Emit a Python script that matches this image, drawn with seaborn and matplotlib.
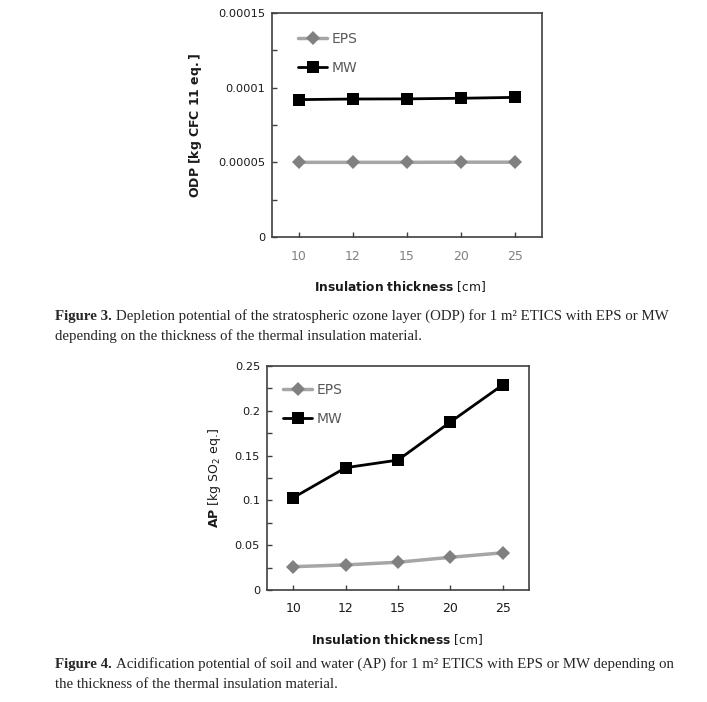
import numpy as np
import pandas as pd
import seaborn as sns
import matplotlib.pyplot as plt
from matplotlib.ticker import FixedLocator

# Data
thickness = ['10', '12', '15', '20', '25']
odp_eps = [5.00e-5, 5.00e-5, 5.00e-5, 5.01e-5, 5.01e-5]
odp_mw = [9.20e-5, 9.24e-5, 9.25e-5, 9.29e-5, 9.35e-5]
ap_eps = [0.026, 0.028, 0.031, 0.0365, 0.0415]
ap_mw = [0.103, 0.1365, 0.145, 0.1875, 0.229]

odp_ticks = [0, 0.00005, 0.0001, 0.00015]
odp_ticklabels = ['0', '0.00005', '0.0001', '0.00015']
ap_ticks = [0, 0.05, 0.1, 0.15, 0.2, 0.25]
ap_ticklabels = ['0', '0.05', '0.1', '0.15', '0.2', '0.25']

caption3 = ('Depletion potential of the stratospheric ozone layer (ODP) for 1 m\u00b2 ETICS with EPS or MW',
            'depending on the thickness of the thermal insulation material.')
caption4 = ('Acidification potential of soil and water (AP) for 1 m\u00b2 ETICS with EPS or MW depending on',
            'the thickness of the thermal insulation material.')

sns.set_theme(style='white')
plt.rcParams['font.family'] = ['DejaVu Sans']
plt.rcParams['mathtext.fontset'] = 'dejavusans'

EDGE = '#404040'
palette = {'EPS': '#a6a6a6', 'MW': '#000000'}
markers = {'EPS': 'D', 'MW': 's'}


def long_form(eps, mw):
    return pd.DataFrame({
        'thickness': thickness * 2,
        'value': list(eps) + list(mw),
        'material': ['EPS'] * len(eps) + ['MW'] * len(mw),
    })


def style_line(line):
    # Excel look: light grey line with darker grey diamonds, black line with black squares
    if line.get_color() == palette['EPS']:
        line.set_linewidth(2.5)
        line.set_markerfacecolor('#808080')
        line.set_markeredgecolor('#808080')
        line.set_markersize(7.5)
    else:
        line.set_linewidth(2)
        line.set_markersize(8)


def draw_panel(ax, df, ticks, ticklabels, minor_step, ylabel, xtick_color,
               ylabel_x, xlabel_x, leg_xy):
    sns.lineplot(data=df, x='thickness', y='value', hue='material', style='material',
                 palette=palette, markers=markers, dashes=False, sort=False,
                 markersize=7, markeredgewidth=0, ax=ax)
    for line in ax.get_lines():
        style_line(line)

    ax.set_xlim(-0.5, 4.5)
    ax.set_ylim(ticks[0], ticks[-1])
    ax.yaxis.set_major_locator(FixedLocator(ticks))
    ax.set_yticklabels(ticklabels, fontsize=8.2, color='#1a1a1a')
    minor = np.arange(ticks[0], ticks[-1] + minor_step / 2, minor_step)
    ax.yaxis.set_minor_locator(FixedLocator(minor))
    ax.tick_params(axis='y', which='both', direction='in', length=3.5, width=1,
                   color=EDGE, left=True, pad=5)
    ax.tick_params(axis='x', direction='in', length=3.5, width=1, color=EDGE,
                   bottom=True, pad=9, labelsize=9, labelcolor=xtick_color)
    for sp in ax.spines.values():
        sp.set_color(EDGE)
        sp.set_linewidth(1.2)

    ax.set_xlabel(r'$\bf{Insulation\ thickness}$ [cm]', fontsize=8.8, color='#1a1a1a')
    ax.xaxis.set_label_coords(xlabel_x, -0.186)
    ax.set_ylabel(ylabel, fontsize=9, color='#1a1a1a')
    ax.yaxis.set_label_coords(ylabel_x, 0.5)

    handles, labels = ax.get_legend_handles_labels()
    leg = ax.legend(handles, labels, loc='upper left', bbox_to_anchor=leg_xy,
                    frameon=False, fontsize=10, labelspacing=1.1, handlelength=2.1,
                    handletextpad=0.35, borderaxespad=0)
    for txt in leg.get_texts():
        txt.set_color('#595959')
    for h in leg.legend_handles:
        style_line(h)


def caption(fig, y, label, lines, size=10.7):
    serif = ['Liberation Serif', 'DejaVu Serif']
    head = fig.text(55 / 707, y, label, fontsize=size, fontweight='bold', family=serif,
                    va='baseline', ha='left')
    plt.annotate(lines[0], xy=(1, 0), xycoords=head, xytext=(3, 0), textcoords='offset points',
                 fontsize=size, family=serif, va='bottom', ha='left', annotation_clip=False)
    fig.text(55 / 707, y - 20 / 702, lines[1], fontsize=size, family=serif,
             va='baseline', ha='left')


fig = plt.figure(figsize=(7.07, 7.02), dpi=100)
ax1 = fig.add_axes([272 / 707, 1 - 237 / 702, 270 / 707, 224 / 702])
ax2 = fig.add_axes([267 / 707, 1 - 590 / 702, 262 / 707, 224 / 702])

draw_panel(ax1, long_form(odp_eps, odp_mw), odp_ticks, odp_ticklabels, 0.000025,
           r'$\bf{ODP\ [kg\ CFC\ 11\ eq.]}$', '#808080', -0.25, 0.474, (0.076, 0.942))
draw_panel(ax2, long_form(ap_eps, ap_mw), ap_ticks, ap_ticklabels, 0.025,
           r'$\bf{AP}$ [kg SO$_2$ eq.]', '#1a1a1a', -0.168, 0.497, (0.04, 0.95))

caption(fig, 1 - 320 / 702, 'Figure 3.', caption3)
caption(fig, 1 - 668 / 702, 'Figure 4.', caption4)

fig.savefig('out.png', dpi=100, facecolor='white')
